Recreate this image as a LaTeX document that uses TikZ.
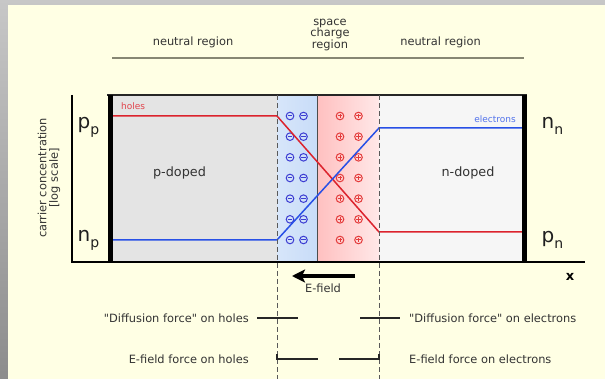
\documentclass[tikz,border=0pt]{standalone}
\usepackage{fontspec}
\setmainfont{DejaVu Sans}[Ligatures=TeXOff]
\usetikzlibrary{arrows.meta}
\definecolor{cream}{RGB}{255,255,228}
\definecolor{txt}{RGB}{51,51,51}
\definecolor{hdr}{RGB}{135,135,115}
\definecolor{pgrey}{RGB}{228,228,228}
\definecolor{ngrey}{RGB}{246,246,246}
\definecolor{sblue}{RGB}{200,220,248}
\definecolor{sbluel}{RGB}{215,230,250}
\definecolor{sred}{RGB}{255,192,192}
\definecolor{sredl}{RGB}{255,232,232}
\definecolor{hole}{RGB}{220,35,45}
\definecolor{elec}{RGB}{40,80,230}
\definecolor{minusc}{RGB}{60,60,210}
\definecolor{plusc}{RGB}{228,60,60}
\begin{document}
\begin{tikzpicture}[x=1pt,y=-1pt,
  lbl/.style={inner sep=0pt, text=txt, font=\fontsize{11.4}{11.5}\selectfont},
  dlbl/.style={inner sep=0pt, text=txt, font=\fontsize{12.8}{14}\selectfont},
  big/.style={inner sep=0pt, text=black!88, font=\fontsize{20}{20}\selectfont},
  tiny/.style={inner sep=0pt, font=\fontsize{9}{10}\selectfont},
  carrier/.style={line width=1.5pt},
  sep/.style={dash pattern=on 5pt off 3pt, line width=1pt, black!65},
  force/.style={line width=1.2pt, black!85},
  thickwall/.style={line width=5pt, black},
  axisline/.style={line width=2pt, black},
  chg/.style={line width=1pt}
]
\useasboundingbox (0,0) rectangle (605,379);
% background
\shade[top color=black!22, bottom color=black!45] (0,0) rectangle (605,379);
\fill[cream] (8,5) rectangle (605,379);

% coordinates
\coordinate (bl) at (110,95);
\coordinate (d1t) at (277,95);
\coordinate (d1b) at (277,262);
\coordinate (mt) at (317,95);
\coordinate (mb) at (317,262);
\coordinate (d2t) at (379,95);
\coordinate (d2b) at (379,262);
\coordinate (br) at (524.5,262);

% region fills
\fill[pgrey] (bl) rectangle (d1b);
\shade[left color=sbluel, right color=sblue] (d1t) rectangle (mb);
\shade[left color=sred, right color=sredl] (mt) rectangle (d2b);
\fill[ngrey] (d2t) rectangle (br);

% header
\coordinate (h1) at (112,58);
\coordinate (h2) at (524,58);
\draw[hdr, line width=1.3pt] (h1) -- (h2);
\node[lbl, anchor=base] (nl) at (193,46) {neutral region};
\node[lbl, anchor=base] (nr) at (440.5,46) {neutral region};
\node[lbl, align=center, anchor=south] (scr) at (330,50.7) {space\\charge\\region};

% box top and middle line
\coordinate (tl) at (107,95);
\coordinate (tr) at (527,95);
\draw[line width=1.5pt, black!85] (tl) -- (tr);
\draw[line width=1pt, black!70] (mt) -- (mb);

% charges
\foreach \y in {116,136.67,157.33,178,198.67,219.33,240}{
  \foreach \x in {290,303.5}{
    \draw[minusc, chg] (\x,\y) circle[radius=3.8pt];
    \draw[minusc, chg] (\x-2.4,\y) -- (\x+2.4,\y);
  }
  \foreach \x in {340,358.5}{
    \draw[plusc, chg] (\x,\y) circle[radius=3.8pt];
    \draw[plusc, chg] (\x-2.4,\y) -- (\x+2.4,\y);
    \draw[plusc, chg] (\x,\y-2.4) -- (\x,\y+2.4);
  }
}

% carrier concentrations
\coordinate (h0) at (110,116);
\coordinate (hA) at (277,116);
\coordinate (hB) at (379,232);
\coordinate (hC) at (522,232);
\draw[hole, carrier] (h0) -- (hA) -- (hB) -- (hC);
\coordinate (e0) at (110,240);
\coordinate (eA) at (277,240);
\coordinate (eB) at (379,128);
\coordinate (eC) at (522,128);
\draw[elec, carrier] (e0) -- (eA) -- (eB) -- (eC);
\node[tiny, text=hole!85, anchor=base west] (holes) at (121,110) {holes};
\node[tiny, text=elec!80, anchor=base east] (electrons) at (516,123) {electrons};

% dashed separators
\coordinate (d1e) at (277,379);
\coordinate (d2e) at (379,379);
\draw[sep] (d1t) -- (d1e);
\draw[sep] (d2t) -- (d2e);

% walls and axes
\coordinate (wl1) at (110,95);
\coordinate (wl2) at (110,262);
\coordinate (wr1) at (524.5,95);
\coordinate (wr2) at (524.5,262);
\draw[thickwall] (wl1) -- (wl2);
\draw[thickwall] (wr1) -- (wr2);
\coordinate (ay) at (72,95);
\coordinate (ao) at (72,262);
\coordinate (ax) at (585,262);
\draw[axisline] (ay) -- (ao) -- (ax);
\node[inner sep=0pt, font=\bfseries\fontsize{13}{13}\selectfont, anchor=base] (xl) at (570,281) {x};

% labels
\node[dlbl, anchor=base] (pd) at (179.5,177) {p-doped};
\node[dlbl, anchor=base] (nd) at (468,177) {n-doped};
\node[big, anchor=base] (pp) at (88.5,129) {p\raisebox{-6pt}{\fontsize{14}{14}\selectfont p}};
\node[big, anchor=base] (np) at (88.5,242) {n\raisebox{-6pt}{\fontsize{14}{14}\selectfont p}};
\node[big, anchor=base] (nn) at (552.5,129) {n\raisebox{-6pt}{\fontsize{14}{14}\selectfont n}};
\node[big, anchor=base] (pn) at (552.5,243) {p\raisebox{-6pt}{\fontsize{14}{14}\selectfont n}};
\node[lbl, rotate=90, align=center] (ylab) at (49,178) {carrier concentration\\{[log scale]}};

% E-field arrow
\coordinate (ea1) at (355,276);
\coordinate (ea2) at (292,276);
\draw[line width=3.5pt, -{Stealth[length=13pt,width=13pt,inset=3pt]}] (ea1) -- (ea2);
\node[lbl, anchor=base] (ef) at (323,293) {E-field};

% forces
\coordinate (f1a) at (257,318);
\coordinate (f1b) at (298,318);
\coordinate (f2a) at (360,318);
\coordinate (f2b) at (400,318);
\draw[force] (f1a) -- (f1b);
\draw[force] (f2a) -- (f2b);
\coordinate (g1t) at (277,354);
\coordinate (g1a) at (277,359);
\coordinate (g1b) at (318,359);
\coordinate (g2a) at (339,359);
\coordinate (g2b) at (379,359);
\coordinate (g2t) at (379,354);
\draw[force] (g1t) -- (g1a) -- (g1b);
\draw[force] (g2a) -- (g2b) -- (g2t);
\node[lbl, anchor=base east] (dh) at (249,323) {"Diffusion force" on holes};
\node[lbl, anchor=base west] (de) at (409,323) {"Diffusion force" on electrons};
\node[lbl, anchor=base east] (eh) at (249,363) {E-field force on holes};
\node[lbl, anchor=base west] (ee) at (409,363) {E-field force on electrons};
\end{tikzpicture}
\end{document}
